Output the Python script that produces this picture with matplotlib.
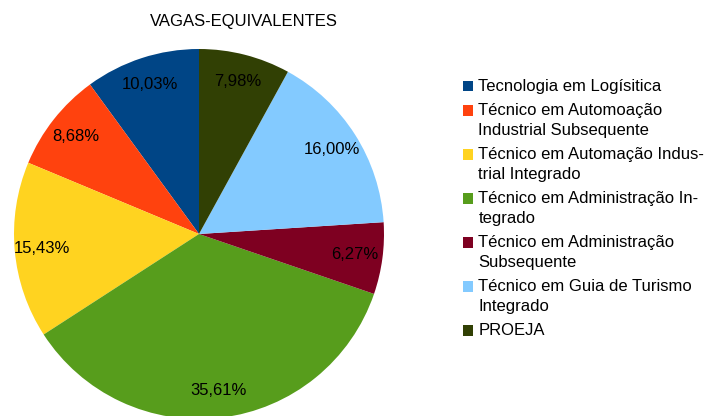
import matplotlib
matplotlib.use("Agg")
import matplotlib.pyplot as plt
from matplotlib.patches import Rectangle

plt.rcParams['font.family'] = ['Liberation Sans', 'DejaVu Sans']

title = "VAGAS-EQUIVALENTES"
categories = [
    "Tecnologia em Logísitica",
    "Técnico em Automoação\nIndustrial Subsequente",
    "Técnico em Automação Indus-\ntrial Integrado",
    "Técnico em Administração In-\ntegrado",
    "Técnico em Administração\nSubsequente",
    "Técnico em Guia de Turismo\nIntegrado",
    "PROEJA",
]
values = [10.03, 8.68, 15.43, 35.61, 6.27, 16.00, 7.98]
colors = ["#004586", "#ff420e", "#ffd320", "#579d1c", "#7e0021", "#83caff", "#314004"]

W, H = 712, 416
fig = plt.figure(figsize=(W / 100, H / 100), dpi=100)
cx, cy, r = 199, 234, 185
ax = fig.add_axes([(cx - r) / W, (H - cy - r) / H, 2 * r / W, 2 * r / H])

wedges, texts, autotexts = ax.pie(
    values, colors=colors, startangle=90, counterclock=True, radius=1,
    autopct=lambda p: f"{p:.2f}%".replace(".", ","), pctdistance=0.85,
    wedgeprops=dict(linewidth=0), textprops=dict(fontsize=12, color="black"),
)
ax.set_xlim(-1, 1)
ax.set_ylim(-1, 1)
ax.set_aspect('equal')
ax.axis('off')
for w in wedges:
    w.set_clip_on(False)

fig.text(244 / W, 1 - 21.5 / H, title, ha='center', va='center', fontsize=12)

# legend, drawn manually
y = 86.0
sq = 10.7
for lab, col in zip(categories, colors):
    fig.patches.append(Rectangle((462.7 / W, 1 - (y + sq / 2) / H), sq / W, sq / H,
                                 transform=fig.transFigure, facecolor=col, edgecolor='none'))
    lines = lab.split("\n")
    for i, ln in enumerate(lines):
        fig.text(478.3 / W, 1 - (y + i * 19.8) / H, ln, ha='left', va='center',
                 fontsize=12, color='black')
    y += len(lines) * 19.8 + 4.5

fig.savefig("out.png", dpi=100)
